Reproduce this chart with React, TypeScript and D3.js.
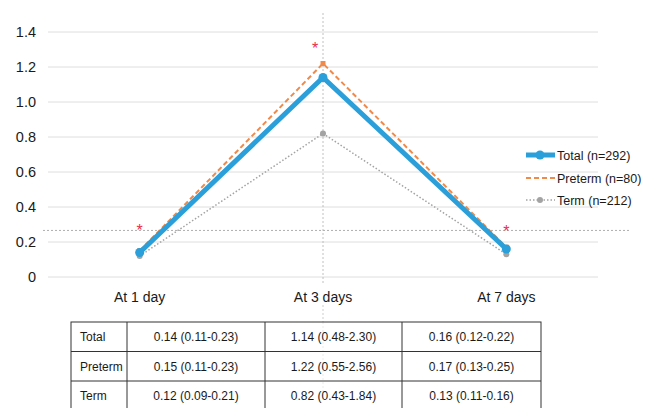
import React from "react";
import * as d3 from "d3";

const categories = ["At 1 day", "At 3 days", "At 7 days"];
const totalValues = [0.14, 1.14, 0.16];
const pretermValues = [0.15, 1.22, 0.17];
const termValues = [0.12, 0.82, 0.13];
const yTicks = [0, 0.2, 0.4, 0.6, 0.8, 1.0, 1.2, 1.4];
const refLineValue = 0.266;
const asteriskValues = [0.3, 1.34, 0.295];
const seriesNames = ["Total (n=292)", "Preterm (n=80)", "Term (n=212)"];
const tableRowLabels = ["Total", "Preterm", "Term"];
const tableCells = [
  ["0.14 (0.11-0.23)", "1.14 (0.48-2.30)", "0.16 (0.12-0.22)"],
  ["0.15 (0.11-0.23)", "1.22 (0.55-2.56)", "0.17 (0.13-0.25)"],
  ["0.12 (0.09-0.21)", "0.82 (0.43-1.84)", "0.13 (0.11-0.16)"],
];

const W = 651;
const H = 408;
const FONT = "'Liberation Sans', Arial, Helvetica, sans-serif";
const BLUE = "#2b9fd9";
const ORANGE = "#ef8a4a";
const GRAY = "#a3a3a3";

export default function App() {
  const x = d3.scalePoint<string>().domain(categories).range([48, 598]).padding(0.5);
  const y = d3.scaleLinear().domain([0, 1.4]).range([277, 32]);
  const line = d3
    .line<number>()
    .x((_, i) => x(categories[i]) as number)
    .y((d) => y(d));

  const colX = [71, 127, 265, 402, 541];
  const rowY = [322, 351.5, 381, 410];
  const midX = x(categories[1]) as number;

  return (
    <svg
      width={W}
      height={H}
      style={{ position: "absolute", left: 0, top: 0, background: "#fff" }}
      fontFamily={FONT}
    >
      <rect width={W} height={H} fill="#fff" />
      {/* grid */}
      {yTicks.map((t) => (
        <line key={t} x1={48} x2={598} y1={y(t)} y2={y(t)} stroke="#dedede" strokeWidth={1} />
      ))}
      {yTicks.map((t) => (
        <text key={"l" + t} x={36} y={y(t)} dy="0.36em" textAnchor="end" fontSize={14.5} fill="#1a1a1a">
          {t === 0 ? "0" : t.toFixed(1)}
        </text>
      ))}
      {/* reference lines */}
      <line x1={43} x2={631} y1={y(refLineValue)} y2={y(refLineValue)} stroke="#9a9a9a" strokeWidth={0.8} strokeDasharray="2,2" />
      <line x1={midX} x2={midX} y1={13} y2={285} stroke="#b0b0b0" strokeWidth={0.8} strokeDasharray="2,2" />
      <line x1={midX} x2={midX} y1={305} y2={322} stroke="#c0c0c0" strokeWidth={0.8} strokeDasharray="2,2" />
      <line x1={midX} x2={midX} y1={322} y2={400} stroke="#e6e6e6" strokeWidth={0.8} strokeDasharray="2,2" />
      {/* x labels */}
      {categories.map((c) => (
        <text key={c} x={x(c)} y={297} dy="0.36em" textAnchor="middle" fontSize={14} fill="#1a1a1a">
          {c}
        </text>
      ))}
      {/* term */}
      <path d={line(termValues) || ""} fill="none" stroke={GRAY} strokeWidth={1.5} strokeDasharray="1.5,2" />
      {termValues.map((v, i) => (
        <circle key={"t" + i} cx={x(categories[i])} cy={y(v)} r={3} fill={GRAY} />
      ))}
      {/* preterm */}
      <path d={line(pretermValues) || ""} fill="none" stroke={ORANGE} strokeWidth={2} strokeDasharray="5,3" />
      {pretermValues.map((v, i) => (
        <rect key={"p" + i} x={(x(categories[i]) as number) - 2.5} y={y(v) - 2.5} width={5} height={5} fill={ORANGE} />
      ))}
      {/* total */}
      <path d={line(totalValues) || ""} fill="none" stroke={BLUE} strokeWidth={5} strokeLinejoin="round" />
      {totalValues.map((v, i) => (
        <circle key={"o" + i} cx={x(categories[i])} cy={y(v)} r={4.5} fill={BLUE} />
      ))}
      {/* asterisks */}
      {asteriskValues.map((v, i) => (
        <text
          key={"a" + i}
          x={(x(categories[i]) as number) + (i === 1 ? -8 : 0)}
          y={y(v)}
          dy="0.7em"
          textAnchor="middle"
          fontSize={16}
          fill="#e8304a"
        >
          *
        </text>
      ))}
      {/* legend */}
      <g fontSize={12.5} fill="#1a1a1a">
        <line x1={526} x2={555} y1={155} y2={155} stroke={BLUE} strokeWidth={5} />
        <circle cx={540} cy={155} r={4.5} fill={BLUE} />
        <text x={557} y={155} dy="0.36em">{seriesNames[0]}</text>
        <line x1={526} x2={555} y1={178} y2={178} stroke={ORANGE} strokeWidth={2} strokeDasharray="5,3" />
        <text x={557} y={178} dy="0.36em">{seriesNames[1]}</text>
        <line x1={526} x2={555} y1={200} y2={200} stroke={GRAY} strokeWidth={1.5} strokeDasharray="1.5,2" />
        <circle cx={540} cy={200} r={3} fill={GRAY} />
        <text x={557} y={200} dy="0.36em">{seriesNames[2]}</text>
      </g>
      {/* table */}
      <g stroke="#333" strokeWidth={1} fill="none">
        <rect x={colX[0]} y={rowY[0]} width={colX[4] - colX[0]} height={rowY[3] - rowY[0]} />
        {rowY.slice(1, 3).map((ry) => (
          <line key={"r" + ry} x1={colX[0]} x2={colX[4]} y1={ry} y2={ry} />
        ))}
        {colX.slice(1, 4).map((cx) => (
          <line key={"c" + cx} x1={cx} x2={cx} y1={rowY[0]} y2={rowY[3]} />
        ))}
      </g>
      <g fontSize={12} fill="#1a1a1a">
        {tableRowLabels.map((lab, r) => (
          <g key={lab}>
            <text x={80} y={(rowY[r] + rowY[r + 1]) / 2} dy="0.36em">
              {lab}
            </text>
            {tableCells[r].map((cell, c) => (
              <text
                key={c}
                x={(colX[c + 1] + colX[c + 2]) / 2}
                y={(rowY[r] + rowY[r + 1]) / 2}
                dy="0.36em"
                textAnchor="middle"
              >
                {cell}
              </text>
            ))}
          </g>
        ))}
      </g>
    </svg>
  );
}
